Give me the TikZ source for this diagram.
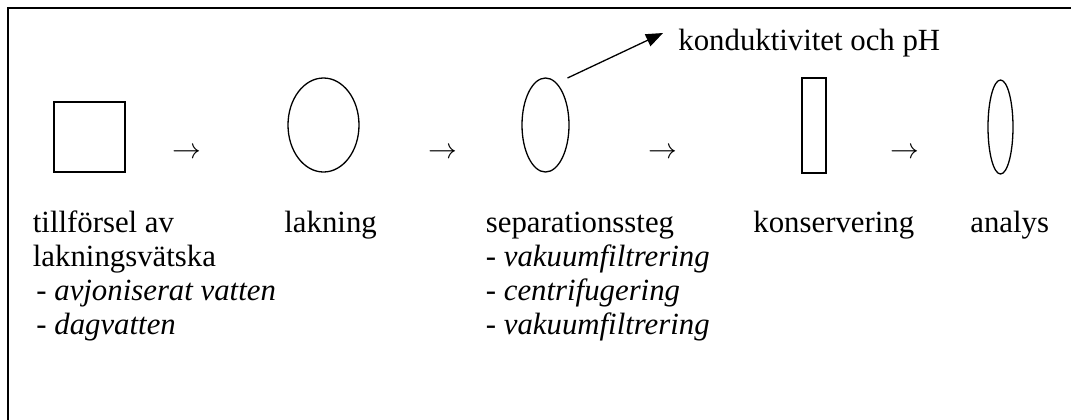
\documentclass[tikz,border=0pt]{standalone}
\usepackage{fontspec}
\setmainfont{Liberation Serif}
\usetikzlibrary{arrows.meta,positioning,shapes.geometric}
\tikzset{
  stage/.style={draw, line width=0.65pt, inner sep=0pt, outer sep=0pt},
  box/.style={stage, rectangle},
  vessel/.style={stage, ellipse},
  txt/.style={anchor=base west, inner sep=0pt, font=\fontsize{15.4}{17}\selectfont},
  subtxt/.style={txt, font=\fontsize{15.4}{17}\selectfont\itshape},
  pointer/.style={anchor=base, inner sep=0pt, font=\fontsize{14.8}{17}\selectfont},
  flow/.style={-{Triangle[length=8.5pt,width=6.5pt]}, line width=0.65pt},
  frame/.style={line width=1pt}
}

\begin{document}
\begin{tikzpicture}[x=0.5pt, y=-0.5pt]
  \useasboundingbox (0,0) rectangle (1071,419);
  % Frame (open at right and bottom)
  \draw[frame] (7.5,440) -- (7.5,8) -- (1090,8);

  % Stages
  \node[box, minimum width=35.5pt, minimum height=35pt] (supply) at (89.5,137) {};
  \node[vessel, minimum width=35.5pt, minimum height=47pt] (leach) at (323.5,125) {};
  \node[vessel, minimum width=23.5pt, minimum height=47pt] (sep) at (545.5,125) {};
  \node[box, minimum width=12pt, minimum height=47.5pt] (preserve) at (814,125.5) {};
  \node[vessel, minimum width=12.5pt, minimum height=47pt] (analysis) at (1000.5,127) {};

  % Arrows between stages
  \node[pointer] (p1) at (186.5,158) {$\rightarrow$};
  \node[pointer] (p2) at (443,158) {$\rightarrow$};
  \node[pointer] (p3) at (663,158) {$\rightarrow$};
  \node[pointer] (p4) at (904.5,158) {$\rightarrow$};

  % Labels
  \node[txt] (supplytxt) at (32.5,232.5) {tillförsel av};
  \node[txt] (supplytxt2) at (32.5,266.5) {lakningsvätska};
  \node[subtxt] (water1) at (36,300.5) {- avjoniserat vatten};
  \node[subtxt] (water2) at (36,334.5) {- dagvatten};
  \node[txt] (leachtxt) at (284,232.5) {lakning};
  \node[txt] (septxt) at (485.5,232.5) {separationssteg};
  \node[subtxt] (sep1) at (485.5,266.5) {- vakuumfiltrering};
  \node[subtxt] (sep2) at (485.5,300.5) {- centrifugering};
  \node[subtxt] (sep3) at (485.5,334.5) {- vakuumfiltrering};
  \node[txt] (preservetxt) at (753,232.5) {konservering};
  \node[txt] (analysistxt) at (970,232.5) {analys};
  \node[txt] (cond) at (678,50) {konduktivitet och pH};

  % Measurement branch
  \coordinate[right=11pt of sep.north] (tap);
  \coordinate[above left=8.5pt and 7.5pt of cond.base west] (tip);
  \draw[flow] (tap) -- (tip);
\end{tikzpicture}
\end{document}
